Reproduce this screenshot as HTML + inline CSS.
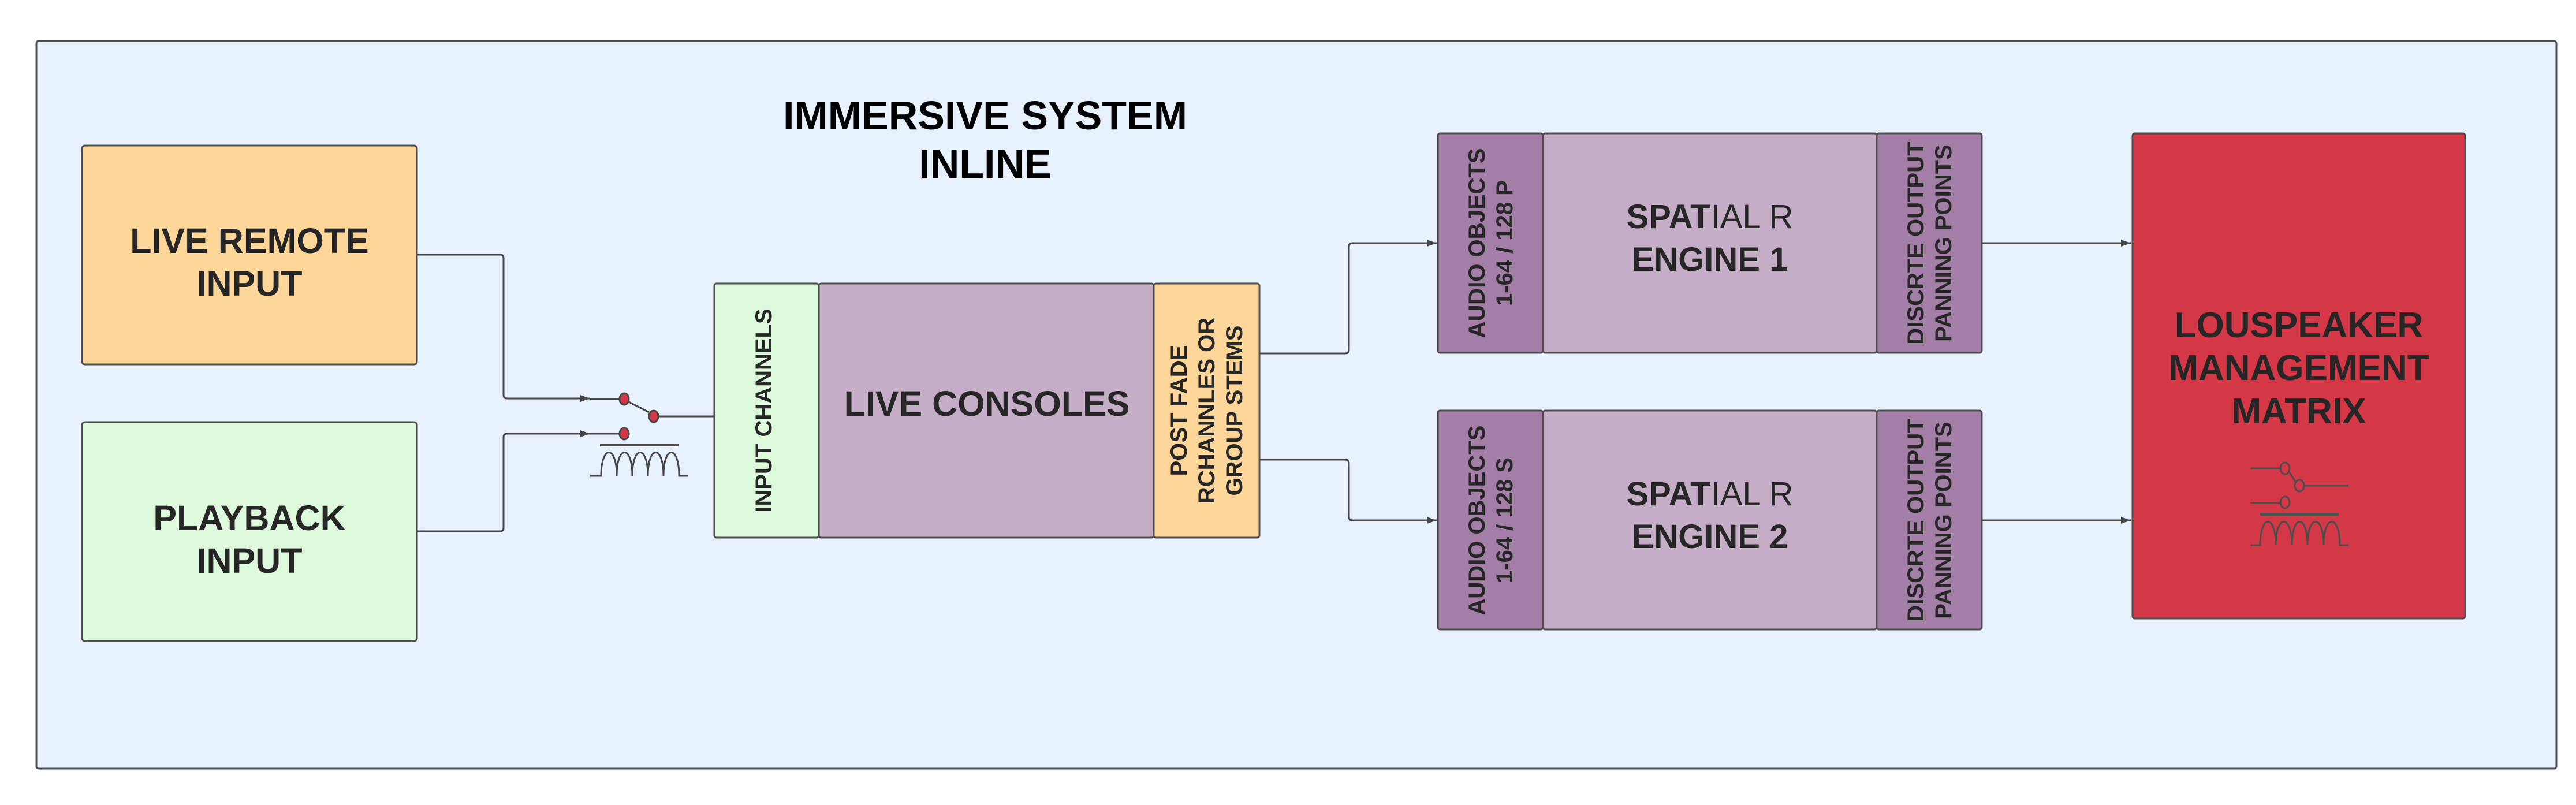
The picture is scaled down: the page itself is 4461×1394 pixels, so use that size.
<!DOCTYPE html>
<html><head><meta charset="utf-8"><style>
html,body{margin:0;padding:0;background:#fff;}
svg{display:block;}
text{font-family:"Liberation Sans",Arial,sans-serif;fill:#262626;font-weight:bold;}
</style></head><body>
<svg width="4461" height="1394" viewBox="0 0 4461 1394" xmlns="http://www.w3.org/2000/svg">
<defs>
<marker id="ah" markerWidth="18" markerHeight="14" refX="17" refY="7" orient="auto" markerUnits="userSpaceOnUse">
<path d="M0,1 L17,7 L0,13 Z" fill="#474747"/>
</marker>
</defs>
<rect x="63" y="71" width="4364" height="1260" rx="4" fill="#e8f2fe" stroke="#4d4d4d" stroke-width="3"/>

<text x="1706" y="224" font-size="70" text-anchor="middle" style="fill:#000">IMMERSIVE SYSTEM</text>
<text x="1706" y="308" font-size="70" text-anchor="middle" style="fill:#000">INLINE</text>

<rect x="142" y="252" width="580" height="379" rx="5" fill="#fed699" stroke="#4d4d4d" stroke-width="3"/>
<text x="432" y="438" font-size="61" text-anchor="middle">LIVE REMOTE</text>
<text x="432" y="512" font-size="61" text-anchor="middle">INPUT</text>
<rect x="142" y="731" width="580" height="379" rx="5" fill="#ddf9dc" stroke="#4d4d4d" stroke-width="3"/>
<text x="432" y="918" font-size="61" text-anchor="middle">PLAYBACK</text>
<text x="432" y="992" font-size="61" text-anchor="middle">INPUT</text>

<g fill="none" stroke="#474747" stroke-width="3">
<path d="M722,441 H866 Q872,441 872,447 V684 Q872,690 878,690 H1022" marker-end="url(#ah)"/>
<path d="M722,920 H866 Q872,920 872,914 V757 Q872,751 878,751 H1022" marker-end="url(#ah)"/>
<path d="M1022,691 H1072"/>
<path d="M1022,751 H1072"/>
<path d="M1089,696 L1124,714"/>
<path d="M1140,721 H1237"/>
<path d="M1022,824 H1041 C1041,770 1068,770 1068,824 C1068,770 1095,770 1095,824 C1095,770 1122,770 1122,824 C1122,770 1149,770 1149,824 C1149,770 1176,770 1176,824 H1192"/>
</g>
<rect x="1039" y="768" width="136" height="5" fill="#474747"/>
<ellipse cx="1081" cy="691" rx="8" ry="10" fill="#d43746" stroke="#474747" stroke-width="3"/>
<ellipse cx="1132" cy="721" rx="8" ry="10" fill="#d43746" stroke="#474747" stroke-width="3"/>
<ellipse cx="1081" cy="751" rx="8" ry="10" fill="#d43746" stroke="#474747" stroke-width="3"/>

<rect x="1237" y="491" width="181" height="440" rx="4" fill="#ddf9dc" stroke="#4d4d4d" stroke-width="3"/>
<rect x="1418" y="491" width="580" height="440" rx="4" fill="#c5adc8" stroke="#4d4d4d" stroke-width="3"/>
<rect x="1998" y="491" width="183" height="440" rx="4" fill="#fed699" stroke="#4d4d4d" stroke-width="3"/>
<text transform="translate(1336,711) rotate(-90)" font-size="40" text-anchor="middle">INPUT CHANNELS</text>
<text x="1709" y="720" font-size="61" text-anchor="middle">LIVE CONSOLES</text>
<g transform="translate(2089,711) rotate(-90)" font-size="40">
<text x="0" y="-34" text-anchor="middle">POST FADE</text>
<text x="0" y="14" text-anchor="middle">RCHANNLES OR</text>
<text x="0" y="62" text-anchor="middle">GROUP STEMS</text>
</g>

<g fill="none" stroke="#474747" stroke-width="3">
<path d="M2181,612 H2330 Q2336,612 2336,606 V427 Q2336,421 2342,421 H2488" marker-end="url(#ah)"/>
<path d="M2181,796 H2330 Q2336,796 2336,802 V895 Q2336,901 2342,901 H2488" marker-end="url(#ah)"/>
<path d="M3432,421 H3690" marker-end="url(#ah)"/>
<path d="M3432,901 H3690" marker-end="url(#ah)"/>
</g>

<rect x="2490" y="231" width="182" height="380" rx="4" fill="#a37ea6" stroke="#4d4d4d" stroke-width="3"/>
<rect x="2672" y="231" width="578" height="380" rx="4" fill="#c5adc8" stroke="#4d4d4d" stroke-width="3"/>
<rect x="3250" y="231" width="182" height="380" rx="4" fill="#a37ea6" stroke="#4d4d4d" stroke-width="3"/>
<g transform="translate(2581,421) rotate(-90)" font-size="40">
<text x="0" y="-10" text-anchor="middle">AUDIO OBJECTS</text>
<text x="0" y="38" text-anchor="middle">1-64 / 128 P</text>
</g>
<g transform="translate(3341,421) rotate(-90)" font-size="40">
<text x="0" y="-10" text-anchor="middle">DISCRTE OUTPUT</text>
<text x="0" y="38" text-anchor="middle">PANNING POINTS</text>
</g>
<text x="2961" y="395" font-size="58" text-anchor="middle">SPAT<tspan font-weight="normal">IAL R</tspan></text>
<text x="2961" y="469" font-size="58" text-anchor="middle">ENGINE 1</text>

<rect x="2490" y="711" width="182" height="379" rx="4" fill="#a37ea6" stroke="#4d4d4d" stroke-width="3"/>
<rect x="2672" y="711" width="578" height="379" rx="4" fill="#c5adc8" stroke="#4d4d4d" stroke-width="3"/>
<rect x="3250" y="711" width="182" height="379" rx="4" fill="#a37ea6" stroke="#4d4d4d" stroke-width="3"/>
<g transform="translate(2581,901) rotate(-90)" font-size="40">
<text x="0" y="-10" text-anchor="middle">AUDIO OBJECTS</text>
<text x="0" y="38" text-anchor="middle">1-64 / 128 S</text>
</g>
<g transform="translate(3341,901) rotate(-90)" font-size="40">
<text x="0" y="-10" text-anchor="middle">DISCRTE OUTPUT</text>
<text x="0" y="38" text-anchor="middle">PANNING POINTS</text>
</g>
<text x="2961" y="875" font-size="58" text-anchor="middle">SPAT<tspan font-weight="normal">IAL R</tspan></text>
<text x="2961" y="949" font-size="58" text-anchor="middle">ENGINE 2</text>

<rect x="3693" y="231" width="576" height="840" rx="4" fill="#d43746" stroke="#4d4d4d" stroke-width="3"/>
<text x="3981" y="584" font-size="62" text-anchor="middle">LOUSPEAKER</text>
<text x="3981" y="658" font-size="62" text-anchor="middle">MANAGEMENT</text>
<text x="3981" y="733" font-size="62" text-anchor="middle">MATRIX</text>
<g fill="none" stroke="#4d4d4d" stroke-width="3">
<path d="M3897,811 H3949"/>
<ellipse cx="3957" cy="811" rx="8" ry="10"/>
<path d="M3965,818 L3976,836"/>
<ellipse cx="3982" cy="841" rx="8" ry="10"/>
<path d="M3990,841 H4067"/>
<path d="M3897,871 H3949"/>
<ellipse cx="3957" cy="870" rx="8" ry="10"/>
<path d="M3897,944 H3914 C3914,890 3941,890 3941,944 C3941,890 3969,890 3969,944 C3969,890 3996,890 3996,944 C3996,890 4024,890 4024,944 C4024,890 4052,890 4052,944 H4067"/>
</g>
<rect x="3914" y="888" width="136" height="5" fill="#4d4d4d"/>
</svg>
</body></html>
